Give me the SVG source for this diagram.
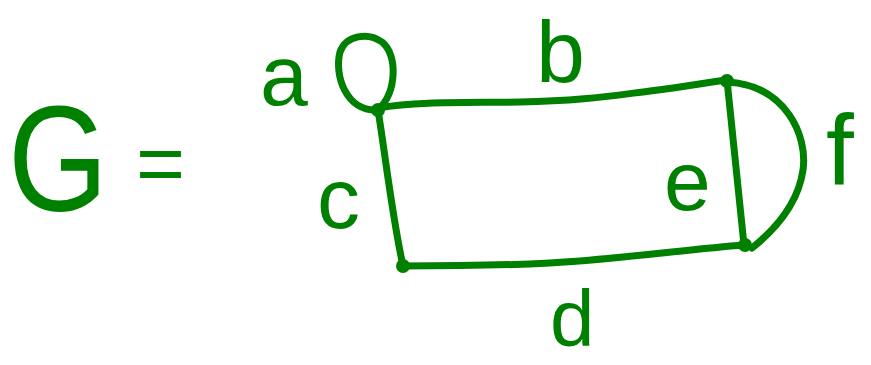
<svg xmlns="http://www.w3.org/2000/svg" width="871" height="365" viewBox="0 0 871 365">
<style>
.e{fill:none;stroke:#008000;stroke-width:7;stroke-linecap:round;stroke-linejoin:round}
.v{fill:#008000}
.t{fill:#008000;font-family:"Liberation Sans","DejaVu Sans",sans-serif}
</style>
<rect width="871" height="365" fill="#ffffff"/>
<text class="t" x="8" y="211" font-size="150" textLength="100" lengthAdjust="spacingAndGlyphs">G</text>
<text class="t" x="136" y="192" font-size="84">=</text>
<g id="edges">
<path id="edge-a" class="e" d="M378,110 C346,112 334,75 340,52 C346,35 368,32 382,42 C398,55 397,92 378,110"/>
<path id="edge-b" class="e" d="M378,108 C420,101 470,103 520,102 C580,101 610,96 650,91 C690,86 710,82 727,80"/>
<path id="edge-c" class="e" d="M378,110 C386,160 392,215 403,266"/>
<path id="edge-d" class="e" d="M403,266 C460,266 510,265 550,263 C620,259 690,249 744,245"/>
<path id="edge-e" class="e" d="M727,80 C733,135 738,190 744,245"/>
<path id="edge-f" class="e" d="M727,82 C785,85 808,135 803,170 C798,205 772,232 752,248"/>
</g>
<g id="v1"><circle class="v" cx="378" cy="110" r="7"/></g>
<g id="v2"><circle class="v" cx="727" cy="81" r="7"/></g>
<g id="v3"><circle class="v" cx="745" cy="245" r="7"/></g>
<g id="v4"><circle class="v" cx="403" cy="266" r="7"/></g>
<g id="labels">
<text class="t" x="536" y="82" font-size="88">b</text>
<text class="t" x="260" y="105" font-size="86">a</text>
<text class="t" x="317" y="228" font-size="86">c</text>
<text class="t" x="550" y="346" font-size="80">d</text>
<text class="t" x="664" y="210" font-size="84">e</text>
<text class="t" x="826" y="185" font-size="100">f</text>
</g>
</svg>
